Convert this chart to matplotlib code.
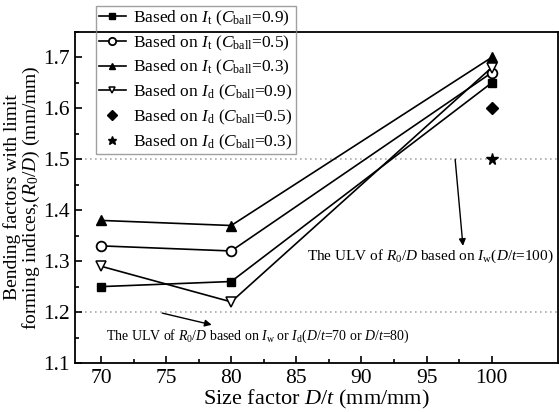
import matplotlib
matplotlib.use("Agg")
import matplotlib.pyplot as plt
from matplotlib.ticker import MultipleLocator, FixedLocator, FormatStrFormatter

plt.rcParams['font.family'] = ['Liberation Serif', 'DejaVu Serif']
plt.rcParams['mathtext.fontset'] = 'custom'
plt.rcParams['mathtext.rm'] = 'Liberation Serif'
plt.rcParams['mathtext.it'] = 'Liberation Serif:italic'

size_factor = [70, 80, 100]
it_09 = [1.25, 1.26, 1.65]
it_05 = [1.33, 1.32, 1.67]
it_03 = [1.38, 1.37, 1.70]
id_09 = [1.29, 1.22, 1.68]
id_05_x, id_05 = [100], [1.60]
id_03_x, id_03 = [100], [1.50]
ulv_levels = [1.5, 1.2]
x_ticks = [70, 75, 80, 85, 90, 95, 100]

fig = plt.figure(figsize=(5.59, 4.12), dpi=100)
ax = fig.add_axes([75/559, 1 - 363/412, (558-75)/559, (363-32)/412])

lw = 1.2
ax.plot(size_factor, it_09, '-', color='black', lw=lw, marker='s', ms=5.5,
        mfc='black', mec='black', label=r'Based on $I_\mathrm{t}$ ($C_\mathrm{ball}$=0.9)')
ax.plot(size_factor, it_05, '-', color='black', lw=lw, marker='o', ms=7,
        mfc='white', mec='black', mew=1.3, label=r'Based on $I_\mathrm{t}$ ($C_\mathrm{ball}$=0.5)')
ax.plot(size_factor, it_03, '-', color='black', lw=lw, marker='^', ms=6.5,
        mfc='black', mec='black', label=r'Based on $I_\mathrm{t}$ ($C_\mathrm{ball}$=0.3)')
ax.plot(size_factor, id_09, '-', color='black', lw=lw, marker='v', ms=6.5,
        mfc='white', mec='black', mew=1.1, label=r'Based on $I_\mathrm{d}$ ($C_\mathrm{ball}$=0.9)')
ax.plot(id_05_x, id_05, linestyle='none', marker='D', ms=6.5, color='black',
        label=r'Based on $I_\mathrm{d}$ ($C_\mathrm{ball}$=0.5)')
ax.plot(id_03_x, id_03, linestyle='none', marker='*', ms=8.5, color='black',
        label=r'Based on $I_\mathrm{d}$ ($C_\mathrm{ball}$=0.3)')

for lvl in ulv_levels:
    ax.axhline(lvl, color='#aaaaaa', lw=1.2, linestyle=(0, (1, 2)), zorder=0)

ax.annotate('', xy=(97.8, 1.33), xytext=(97.2, 1.5),
            arrowprops=dict(arrowstyle='-|>', color='black', lw=1.0,
                            mutation_scale=10, shrinkA=0, shrinkB=0))
ax.text(85.8, 1.309, r'The ULV of $R_0/D$ based on $I_\mathrm{w}$($D/t$=100)',
        fontsize=11, va='center', ha='left')

ax.annotate('', xy=(78.5, 1.175), xytext=(74.7, 1.198),
            arrowprops=dict(arrowstyle='-|>', color='black', lw=1.0,
                            mutation_scale=10, shrinkA=0, shrinkB=0))
ax.text(70.4, 1.153, r'The ULV of $R_0/D$ based on $I_\mathrm{w}$ or $I_\mathrm{d}$($D/t$=70 or $D/t$=80)',
        fontsize=10, va='center', ha='left')

ax.set_xlim(68, 105.1)
ax.set_ylim(1.1, 1.75)
ax.xaxis.set_major_locator(FixedLocator(x_ticks))
ax.xaxis.set_minor_locator(FixedLocator([72.5, 77.5, 82.5, 87.5, 92.5, 97.5]))
ax.yaxis.set_major_locator(MultipleLocator(0.1))
ax.yaxis.set_minor_locator(MultipleLocator(0.05))
ax.tick_params(which='both', direction='in', top=False, right=False,
               labelsize=15.5, width=1.2)
ax.tick_params(which='major', length=5, pad=4)
ax.tick_params(which='minor', length=3)
ax.yaxis.set_major_formatter(FormatStrFormatter('%.1f'))
for s in ax.spines.values():
    s.set_linewidth(1.3)

ax.set_xlabel(r'Size factor $D/t$ (mm/mm)', fontsize=16, labelpad=0)
ax.set_ylabel('Bending factors with limit\n' + r'forming indices,($R_0/D$) (mm/mm)',
              fontsize=14, linespacing=1.0)
ax.yaxis.set_label_coords(-0.068, 0.5)

leg = fig.legend(loc='upper left', bbox_to_anchor=(96/559, 1 - 6/412),
                 fontsize=12.5, frameon=True, fancybox=False, edgecolor='#888888',
                 facecolor='none', borderaxespad=0, handlelength=1.6,
                 labelspacing=0.32, borderpad=0.15, handletextpad=0.4,
                 markerscale=0.75)
leg.get_frame().set_linewidth(1.0)

fig.savefig('out.png', dpi=100)
